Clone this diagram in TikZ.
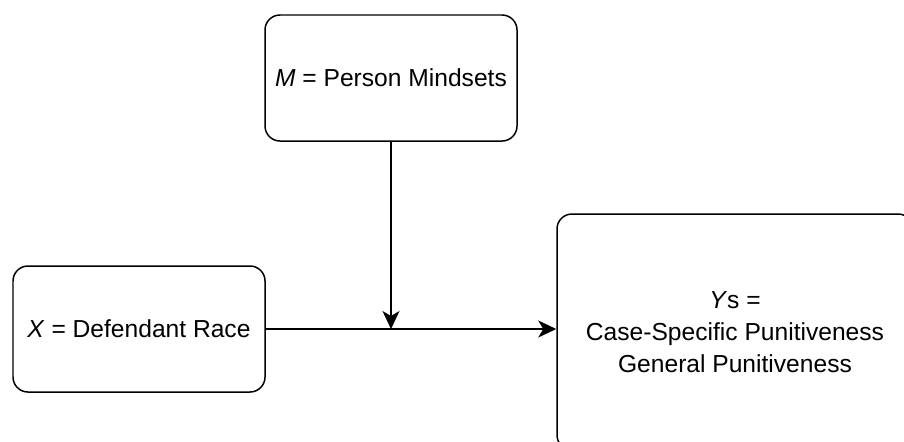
\documentclass[tikz,border=0pt]{standalone}
\usepackage{fontspec}
\setmainfont{Liberation Sans}
\usetikzlibrary{arrows.meta, positioning, calc}

\begin{document}
\begin{tikzpicture}[
    % Styles
    varblock/.style={draw, line width=0.85pt, rounded corners=0.3cm, align=center, font=\fontsize{14}{18.2}\selectfont},
    smallblock/.style={varblock, minimum width=5.04cm, minimum height=2.52cm},
    bigblock/.style={varblock, minimum width=7.12cm, minimum height=4.72cm},
    arrowstyle/.style={-{Stealth[length=0.36cm, width=0.34cm, inset=0.1cm]}, line width=0.85pt},
]
    % Page size
    \useasboundingbox (0,0) rectangle (18.08,8.82);

    % Moderator, predictor and outcomes
    \node[smallblock] (mind) at (7.82, 7.26) {\textit{M} = Person Mindsets};
    \node[smallblock] (race) at (2.78, 2.24) {\textit{X} = Defendant Race};
    \node[bigblock] (ys) at (14.70, 2.18) {\textit{Y}s =\\Case-Specific Punitiveness\\General Punitiveness};

    % Main path X -> Ys
    \draw[arrowstyle] (race.east) -- (race.east -| ys.west);

    % Moderation arrow onto the path
    \coordinate (join) at (mind.south |- race.east);
    \draw[arrowstyle] (mind.south) -- (join);

\end{tikzpicture}
\end{document}
